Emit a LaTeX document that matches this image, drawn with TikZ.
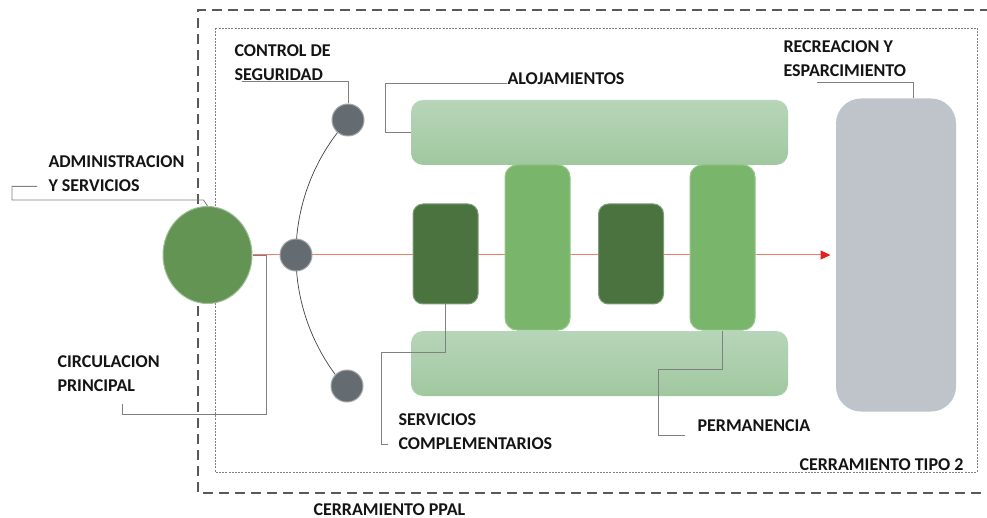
\documentclass[tikz,border=0pt]{standalone}
\usepackage{fontspec}
\setmainfont{Carlito}
\usepackage{xcolor}
\usetikzlibrary{arrows.meta, shapes.geometric, backgrounds}

\definecolor{labeltext}{RGB}{20,20,20}
\definecolor{leadergray}{RGB}{128,128,128}
\definecolor{admgreen}{RGB}{99,148,84}
\definecolor{knotgray}{RGB}{101,108,113}
\definecolor{bartop}{RGB}{183,213,185}
\definecolor{barbot}{RGB}{160,200,159}
\definecolor{darkgreen}{RGB}{74,115,64}
\definecolor{midgreen}{RGB}{121,182,107}
\definecolor{recgray}{RGB}{191,195,202}
\definecolor{flowline}{RGB}{240,128,110}
\definecolor{flowtip}{RGB}{230,30,30}

\begin{document}
\begin{tikzpicture}[x=1pt, y=-1pt, line width=1pt,
    lbl/.style={anchor=north west, inner sep=0pt, align=left, text=labeltext,
        font=\bfseries\fontsize{18}{24.5}\selectfont},
    leader/.style={draw=leadergray, line width=0.9pt},
    knot/.style={circle, fill=knotgray, draw=knotgray!60!white, minimum size=32pt, inner sep=0pt},
    bar/.style={rectangle, rounded corners=12pt, top color=bartop, bottom color=barbot,
        minimum width=377pt, minimum height=65pt, inner sep=0pt},
    servbox/.style={rectangle, rounded corners=10pt, fill=darkgreen, draw=darkgreen!70!white,
        minimum width=65pt, minimum height=100pt, inner sep=0pt},
    permbox/.style={rectangle, rounded corners=12pt, fill=midgreen, draw=midgreen!80!white,
        minimum width=65pt, minimum height=165pt, inner sep=0pt},
    flow/.style={draw=flowline, line width=1pt, -{Triangle[length=10pt, width=9pt, color=flowtip]}}]
    \useasboundingbox (0,0) rectangle (987,518);

    % cerramientos
    \draw[draw=black!65, line width=1.4pt, dash pattern=on 10pt off 6pt] (990,10) -- (198,10) -- (198,493) -- (990,493);
    \draw[draw=black!50, line width=0.8pt, dash pattern=on 2pt off 1.2pt] (215,28) rectangle (977,472);

    % zonas
    \node [ellipse, fill=admgreen, draw=admgreen!60!white, minimum width=89pt, minimum height=97pt, inner sep=0pt] (admin) at (207.5,255) {};
    \node [knot] (ctrltop) at (348,120) {};
    \node [knot] (ctrlmid) at (296,255) {};
    \node [knot] (ctrlbot) at (347,386) {};
    \node [bar] (alojtop) at (599.5,132.5) {};
    \node [bar] (alojbot) at (599.5,363.5) {};
    \node [servbox] (serv1) at (445.5,254) {};
    \node [servbox] (serv2) at (631,254) {};
    \node [permbox] (perm1) at (537.5,247.5) {};
    \node [permbox] (perm2) at (722.5,247.5) {};
    \node [rectangle, rounded corners=25pt, fill=recgray, minimum width=120pt, minimum height=313pt, inner sep=0pt] (recre) at (896,255) {};

    \begin{scope}[on background layer]
        \draw[draw=black!75, line width=0.7pt] (ctrltop.center) arc[start angle=222.2, end angle=138.9, radius=201];
        \draw[flow] (admin.east) -- ([xshift=-5pt]recre.west);
    \end{scope}

    % textos
    \node [lbl] (lblctrl) at (234,44) {CONTROL DE\\SEGURIDAD};
    \node [lbl] (lblaloj) at (507,72) {ALOJAMIENTOS};
    \node [lbl] (lblrec) at (783,40) {RECREACION Y\\ESPARCIMIENTO};
    \node [lbl] (lbladm) at (48,155) {ADMINISTRACION\\Y SERVICIOS};
    \node [lbl] (lblcirc) at (57,355) {CIRCULACION\\PRINCIPAL};
    \node [lbl] (lblserv) at (398,413) {SERVICIOS\\COMPLEMENTARIOS};
    \node [lbl] (lblperm) at (697,419) {PERMANENCIA};
    \node [lbl] (lbltipo) at (799,458) {CERRAMIENTO TIPO 2};
    \node [lbl] (lblppal) at (313,503) {CERRAMIENTO PPAL};

    % lineas de referencia
    \draw[leader] ([xshift=8pt]lblctrl.south west) -| (ctrltop.north);
    \draw[leader] ([yshift=1pt]lblaloj.south west) -- ++(-122,0) |- (alojtop.west);
    \draw[leader] ([xshift=34pt,yshift=-5pt]lblrec.south west) -| ([xshift=17pt]recre.north);
    \draw[leader] ([xshift=-11pt,yshift=6pt]lbladm.south west) -- ++(-25,0) |- ([xshift=-4pt,yshift=6pt]admin.north) -- (admin.north);
    \draw[leader] ([xshift=65pt,yshift=-12pt]lblcirc.south west) -- ++(0,10) -| ([xshift=14pt]admin.east) -- (admin.east);
    \draw[leader] (serv1.south) |- ++(-64,48) |- ([xshift=-10pt,yshift=6pt]lblserv.south west);
    \draw[leader] (perm2.south) |- ++(-64,39) |- ([xshift=-12pt,yshift=-4pt]lblperm.south west);
\end{tikzpicture}
\end{document}
